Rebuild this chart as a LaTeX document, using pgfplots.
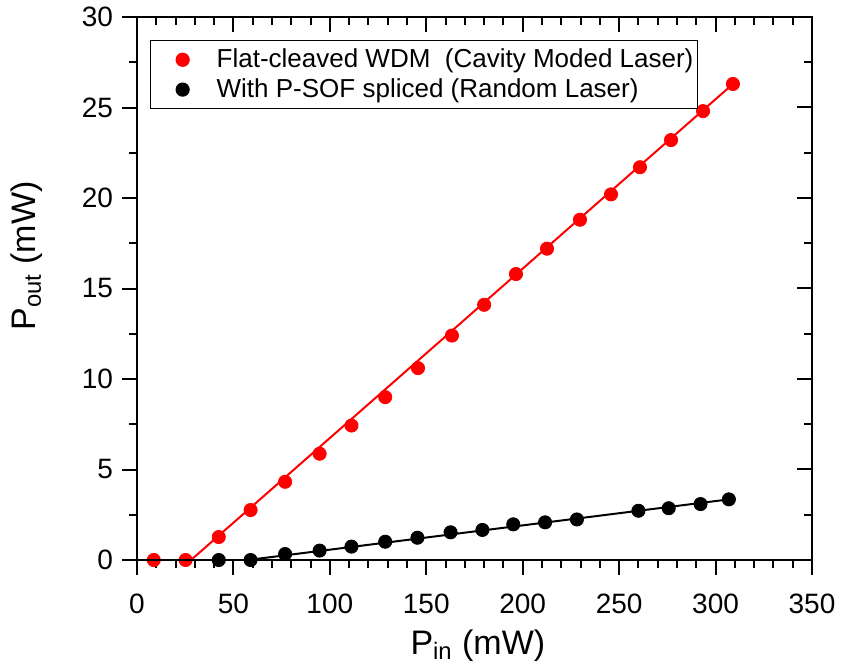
\documentclass[border=0pt]{standalone}
\usepackage{pgfplots}
\pgfplotsset{compat=1.18}
\usepackage{fontspec}
\setmainfont{Liberation Sans}
\begin{document}
\begin{tikzpicture}
\useasboundingbox (-68.5pt,-55pt) rectangle (352.5pt,280pt);
\begin{axis}[
  at={(0,0)}, anchor=south west,
  scale only axis, width=337.5pt, height=271.5pt,
  xmin=0, xmax=350, ymin=0, ymax=30,
  xtick={0,50,...,350}, ytick={0,5,...,30},
  minor x tick num=4, minor y tick num=1,
  tick align=outside, xtick pos=bottom, ytick pos=left,
  major tick length=7.5pt, minor tick length=3.8pt,
  every tick/.style={black, line width=1pt},
  axis line style={line width=1pt},
  /pgf/number format/assume math mode=true,
  ticklabel style={font=\fontsize{14}{14}\selectfont},
  xticklabel style={yshift=-6pt},
  yticklabel style={xshift=-1pt},
  xlabel={P\textsubscript{in} (mW)},
  ylabel={P\textsubscript{out} (mW)},
  label style={font=\fontsize{17}{17}\selectfont},
  xlabel style={at={(axis description cs:0.505,0)}, anchor=base, yshift=-47pt},
  ylabel style={at={(axis description cs:-0.163,0.56)}, anchor=center},
  legend style={at={(axis description cs:0.0195,0.957)}, anchor=north west,
    draw=black, line width=0.5pt, font=\fontsize{13}{16.5}\selectfont,
    inner xsep=0pt, inner ysep=2pt, row sep=0pt},
  legend image code/.code={\path[draw=none,fill=none] (0pt,-3pt) rectangle (31pt,3pt);
    \draw[#1] plot coordinates {(16pt,0pt)};},
  legend cell align=left,
  clip=false,
]
\addplot[red, line width=1pt, forget plot] coordinates {(28,0) (309,26.3)};
\addplot[black, line width=1pt, forget plot] coordinates {(57.5,0) (307,3.35)};
\addplot[only marks, mark=*, mark size=3.3pt, color=red, fill=red] coordinates {
(8.7,0) (25.2,0) (42.4,1.27) (58.9,2.76) (76.8,4.32) (94.7,5.87) (111.2,7.43)
(128.7,9.0) (145.7,10.6) (163.3,12.4) (180,14.1) (196.5,15.8) (212.6,17.2)
(229.7,18.8) (245.8,20.2) (260.8,21.7) (276.9,23.2) (293.5,24.8) (309,26.3)};
\addlegendentry{Flat-cleaved WDM\ \ (Cavity Moded Laser)}
\addplot[only marks, mark=*, mark size=3.3pt, color=black, fill=black] coordinates {
(42.4,0) (58.9,0) (76.8,0.33) (94.7,0.52) (111.2,0.74) (128.7,1.01) (145.4,1.23)
(162.6,1.53) (179.1,1.66) (195.1,1.97) (211.6,2.08) (228.1,2.24) (260,2.72)
(275.7,2.86) (292.2,3.09) (306.9,3.35)};
\addlegendentry{With P-SOF spliced (Random Laser)}
\end{axis}
\begin{axis}[
  at={(0,0)}, anchor=south west,
  scale only axis, width=337.5pt, height=271.5pt,
  xmin=0, xmax=350, ymin=0, ymax=30,
  xtick={0,50,...,350}, ytick={0,5,...,30},
  minor x tick num=4, minor y tick num=1,
  tick align=inside, xtick pos=top, ytick pos=right,
  major tick length=7.5pt, minor tick length=3.8pt,
  every tick/.style={black, line width=1pt},
  axis line style={line width=1pt},
  xticklabels={}, yticklabels={},
]
\end{axis}
\end{tikzpicture}
\end{document}
